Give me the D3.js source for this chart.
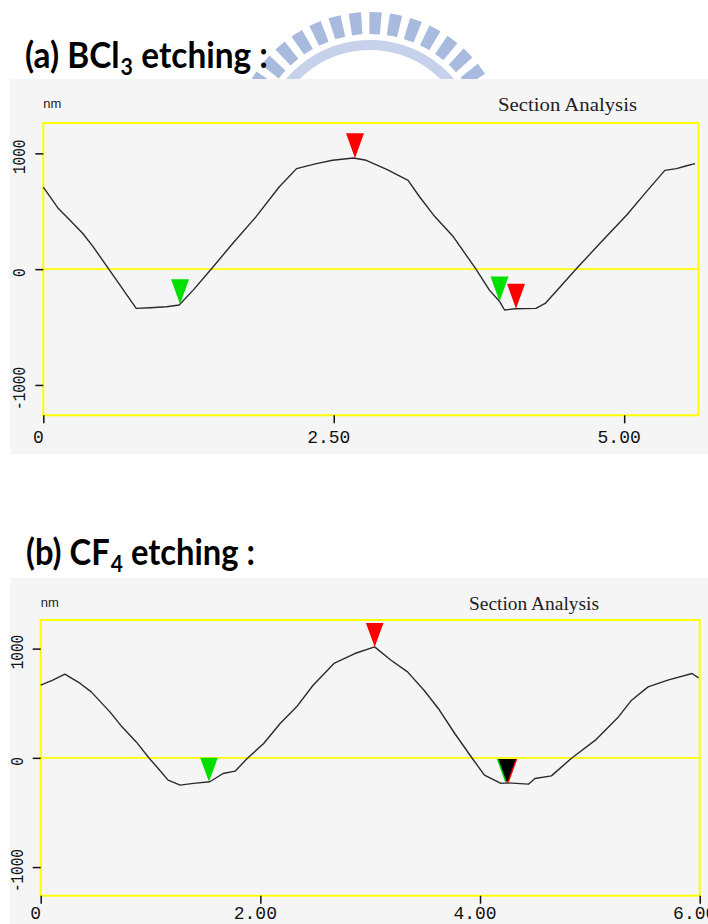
<!DOCTYPE html>
<html>
<head>
<meta charset="utf-8">
<script src="https://cdn.jsdelivr.net/npm/d3@7"></script>
<style>
  body { margin: 0; background: #fff; }
  svg { display: block; }
</style>
</head>
<body>
<svg id="fig" width="708" height="924"></svg>
<script>
// ---- Section profiles: lateral position (µm) and height (nm) ----
const bcl3X = [0, 0.13, 0.23, 0.34, 0.43, 0.57, 0.69, 0.80, 0.92, 1.06, 1.17, 1.29, 1.45, 1.63, 1.83, 2.03, 2.18, 2.35, 2.49, 2.67, 2.78, 2.96, 3.14, 3.24, 3.36, 3.53, 3.72, 3.84, 3.93, 3.97, 4.06, 4.24, 4.32, 4.45, 4.59, 4.79, 5.02, 5.19, 5.35, 5.45, 5.53, 5.61];
const bcl3Z = [709, 523, 422, 308, 192, -9, -181, -339, -333, -325, -310, -181, 6, 221, 451, 709, 868, 911, 940, 960, 940, 859, 767, 623, 466, 279, 6, -181, -282, -353, -342, -339, -296, -152, 6, 221, 466, 667, 853, 868, 891, 911];

const cf4X = [0, 0.11, 0.22, 0.36, 0.46, 0.63, 0.74, 0.87, 0.99, 1.07, 1.16, 1.27, 1.39, 1.54, 1.66, 1.77, 1.88, 2.03, 2.18, 2.33, 2.48, 2.67, 2.86, 3.04, 3.19, 3.34, 3.49, 3.62, 3.77, 3.93, 4.04, 4.19, 4.25, 4.44, 4.50, 4.65, 4.83, 5.05, 5.26, 5.38, 5.53, 5.71, 5.93, 5.99];
const cf4Z = [665, 711, 766, 681, 604, 421, 284, 146, -6, -97, -204, -250, -234, -219, -143, -122, -6, 131, 315, 467, 665, 864, 955, 1016, 894, 787, 619, 452, 223, -6, -158, -234, -229, -241, -189, -165, -6, 162, 375, 528, 650, 711, 772, 732];

// Cursor markers (position along the section and colour)
const bcl3MarkerX = [2.683, 1.177, 3.927, 4.069];
const bcl3MarkerColor = ["#ff0000", "#00e000", "#00e000", "#ff0000"];
const cf4MarkerX = [3.041, 1.532, 4.232, 4.260, 4.246];
const cf4MarkerColor = ["#ff0000", "#00e000", "#00e000", "#ff0000", "#000000"];

// Axis ticks
const bcl3XTicks = [0, 2.5, 5];
const bcl3XTickLabels = ["0", "2.50", "5.00"];
const cf4XTicks = [0, 2, 4, 6];
const cf4XTickLabels = ["0", "2.00", "4.00", "6.00"];
const zTicks = [-1000, 0, 1000];
const zTickLabels = ["-1000", "0", "1000"];

const titles = [
  { main: "(a) BCl", sub: "3", rest: "etching :" },
  { main: "(b) CF", sub: "4", rest: "etching :" }
];

const svg = d3.select("#fig");

// ---- faint logo behind the first heading ----
const logo = svg.append("g").attr("transform", "translate(370,150)");
const barArc = d3.arc().innerRadius(116).outerRadius(138);
const barAngles = d3.range(-8, 8).map(k => (k * 8.6 + 2.3) * Math.PI / 180);
logo.selectAll("path.bar").data(barAngles).join("path")
  .attr("class", "bar")
  .attr("fill", "#a9badf")
  .attr("d", a => barArc({ startAngle: a - 0.045, endAngle: a + 0.045 }));
logo.append("path")
  .attr("fill", "#c6d1ec")
  .attr("d", d3.arc().innerRadius(100).outerRadius(110)({ startAngle: -1.25, endAngle: 1.25 }));

function interp(xs, zs, x) {
  const i = Math.max(1, Math.min(xs.length - 1, d3.bisectLeft(xs, x)));
  const t = (x - xs[i - 1]) / (xs[i] - xs[i - 1]);
  return zs[i - 1] + t * (zs[i] - zs[i - 1]);
}

// Heading built from separate runs, then squeezed horizontally to its width
function heading(cfg) {
  const outer = svg.append("g").attr("transform", `translate(${cfg.titleX},${cfg.titleY})`);
  const g = outer.append("g");
  const font = "Lato, 'Open Sans', sans-serif";
  const a = g.append("text").attr("font-family", font).attr("font-weight", 700)
    .attr("font-size", 36).text(cfg.title.main);
  const w1 = a.node().getComputedTextLength();
  const s = g.append("text").attr("x", w1 + 1).attr("y", 7).attr("font-family", font)
    .attr("font-weight", 700).attr("font-size", 23).text(cfg.title.sub);
  const w2 = s.node().getComputedTextLength();
  const r = g.append("text").attr("x", w1 + w2 + 10).attr("font-family", font)
    .attr("font-weight", 700).attr("font-size", 36).text(cfg.title.rest);
  const total = w1 + w2 + 10 + r.node().getComputedTextLength();
  g.attr("transform", `scale(${cfg.titleW / total},1)`);
}

function panel(cfg) {
  heading(cfg);
  const g = svg.append("g");

  // window background
  g.append("rect")
    .attr("x", cfg.bg[0]).attr("y", cfg.bg[1])
    .attr("width", cfg.bg[2]).attr("height", cfg.bg[3])
    .attr("fill", "#f5f5f5");

  const x = d3.scaleLinear().domain(cfg.xDomain).range([cfg.box[0], cfg.box[1]]);
  const y = d3.scaleLinear().domain([-1262, 1262]).range([cfg.box[3], cfg.box[2]]);

  g.append("text").attr("x", cfg.box[0]).attr("y", cfg.nmY)
    .attr("font-family", "'Liberation Sans', Arial, sans-serif")
    .attr("font-size", 13).attr("fill", "#222").text("nm");
  g.append("text").attr("x", cfg.secX).attr("y", cfg.nmY + 3)
    .attr("font-family", "'Liberation Serif', serif")
    .attr("font-size", 19).attr("fill", "#222")
    .attr("textLength", cfg.secW).attr("lengthAdjust", "spacingAndGlyphs")
    .text("Section Analysis");

  // frame and zero line
  g.append("rect")
    .attr("x", x(cfg.xDomain[0])).attr("y", y(1262))
    .attr("width", x(cfg.xDomain[1]) - x(cfg.xDomain[0]))
    .attr("height", y(-1262) - y(1262))
    .attr("fill", "none").attr("stroke", "#ffff00").attr("stroke-width", 2);
  g.append("line")
    .attr("x1", x(cfg.xDomain[0])).attr("x2", x(cfg.xDomain[1]))
    .attr("y1", y(0)).attr("y2", y(0))
    .attr("stroke", "#ffff00").attr("stroke-width", 1.6);

  // axes
  const xAxis = d3.axisBottom(x).tickValues(cfg.xTicks)
    .tickFormat((d, i) => cfg.xLabels[i]).tickSize(8).tickSizeOuter(0);
  const gx = g.append("g").attr("transform", `translate(0,${y(-1262)})`).call(xAxis);
  gx.select(".domain").remove();
  gx.selectAll("line").attr("stroke", "#111").attr("stroke-width", 1.5);
  gx.selectAll("text")
    .attr("y", cfg.xLabelY).attr("dy", null).attr("dx", -5.5)
    .attr("font-family", "'Liberation Mono', monospace")
    .attr("font-size", 18).attr("fill", "#111");

  const yAxis = d3.axisLeft(y).tickValues(zTicks)
    .tickFormat((d, i) => zTickLabels[i]).tickSize(8).tickSizeOuter(0);
  const gy = g.append("g").attr("transform", `translate(${x(cfg.xDomain[0])},0)`).call(yAxis);
  gy.select(".domain").remove();
  gy.selectAll("line").attr("stroke", "#111").attr("stroke-width", 1.5);
  gy.selectAll("text")
    .attr("x", null).attr("dy", null)
    .attr("transform", "translate(-23,3) rotate(-90)")
    .attr("text-anchor", "middle").attr("dominant-baseline", "central")
    .attr("font-family", "'Liberation Mono', monospace")
    .attr("font-size", 19).attr("fill", "#111")
    .attr("textLength", (d, i) => zTickLabels[i].length * 8.6)
    .attr("lengthAdjust", "spacingAndGlyphs");

  // profile
  const line = d3.line().x((d, i) => x(cfg.xs[i])).y(d => y(d));
  g.append("path").datum(cfg.zs)
    .attr("d", line).attr("fill", "none")
    .attr("stroke", "#2a2a2a").attr("stroke-width", 1.4)
    .attr("stroke-linejoin", "round");

  // cursor markers
  const hw = cfg.mk[0], hh = cfg.mk[1];
  g.selectAll("path.marker").data(cfg.mx).join("path")
    .attr("class", "marker")
    .attr("fill", (d, i) => cfg.mc[i])
    .attr("d", d => {
      const px = x(d), py = y(interp(cfg.xs, cfg.zs, d));
      return `M${px},${py}L${px - hw},${py - hh}L${px + hw},${py - hh}Z`;
    });
}

panel({
  title: titles[0], titleX: 25, titleY: 68, titleW: 243,
  bg: [10, 79, 698, 375],
  box: [43.3, 698.3, 123, 415.3],
  xDomain: [0, 5.638],
  nmY: 108, secX: 498, secW: 139, xLabelY: 28,
  xs: bcl3X, zs: bcl3Z, xTicks: bcl3XTicks, xLabels: bcl3XTickLabels,
  mx: bcl3MarkerX, mc: bcl3MarkerColor, mk: [9, 25]
});

panel({
  title: titles[1], titleX: 26, titleY: 565, titleW: 229,
  bg: [10, 578, 698, 346],
  box: [40.7, 699.7, 620, 895.7],
  xDomain: [0, 6.0],
  nmY: 607, secX: 469, secW: 130, xLabelY: 23,
  xs: cf4X, zs: cf4Z, xTicks: cf4XTicks, xLabels: cf4XTickLabels,
  mx: cf4MarkerX, mc: cf4MarkerColor, mk: [8.8, 24]
});
</script>
</body>
</html>
